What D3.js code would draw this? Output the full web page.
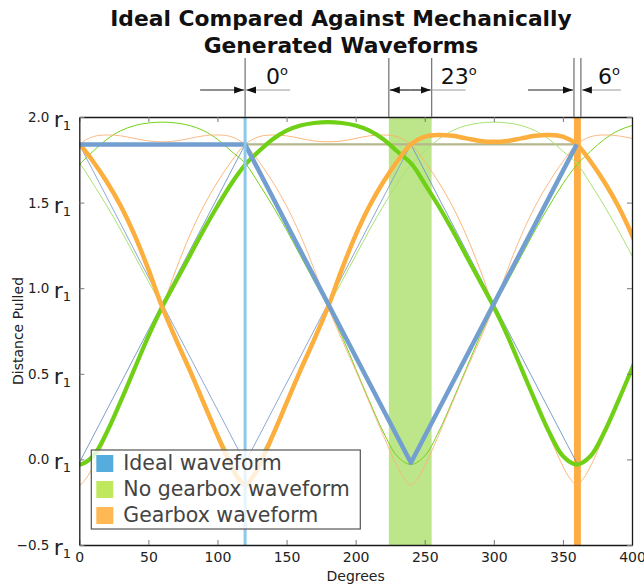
<!DOCTYPE html>
<html>
<head>
<meta charset="utf-8">
<script src="https://cdn.jsdelivr.net/npm/d3@7"></script>
<style>
  body { margin: 0; background: #fff; }
  svg { display: block; }
  text { font-family: "DejaVu Sans", Verdana, sans-serif; }
</style>
</head>
<body>
<svg id="chart" width="644" height="586"></svg>
<script>
// ---- data ---------------------------------------------------------------
const titleLines = ["Ideal Compared Against Mechanically", "Generated Waveforms"];
const xTitle = "Degrees";
const yTitle = "Distance Pulled";
const degreeTicks = [0, 50, 100, 150, 200, 250, 300, 350, 400];
const distanceTicks = [-0.5, 0.0, 0.5, 1.0, 1.5, 2.0];
const legendLabels = ["Ideal waveform", "No gearbox waveform", "Gearbox waveform"];

// One cycle of each waveform, indexed by degrees past its trough (units of r1)
const idealPhase = [0, 120, 240, 360];
const idealValue = [-0.02, 1.84, 1.84, -0.02];

const noGearPhase = [0, 10, 20, 30, 40, 50, 60, 70, 80, 90, 100, 110, 120, 130, 140, 150, 160, 170, 180,
                     190, 200, 210, 220, 230, 240, 250, 260, 270, 280, 290, 300, 310, 320, 330, 340, 350, 360];
const noGearValue = [-0.03, 0.02, 0.16, 0.34, 0.53, 0.72, 0.89, 1.04, 1.19, 1.34, 1.48, 1.61, 1.72, 1.80, 1.87, 1.92, 1.95, 1.965, 1.97,
                     1.965, 1.95, 1.92, 1.87, 1.80, 1.73, 1.61, 1.48, 1.34, 1.19, 1.04, 0.89, 0.72, 0.53, 0.34, 0.16, 0.02, -0.03];

const gearPhase = [0, 5, 10, 20, 30, 40, 50, 60, 70, 80, 90, 100, 110, 120, 130, 140, 150, 160, 170, 180,
                   190, 200, 210, 220, 230, 240, 250, 260, 270, 280, 290, 300, 310, 320, 330, 340, 350, 355, 360];
const gearValue = [-0.15, -0.11, -0.04, 0.14, 0.33, 0.52, 0.70, 0.89, 1.11, 1.31, 1.48, 1.62, 1.74, 1.84, 1.885, 1.895, 1.89, 1.875, 1.86, 1.855,
                   1.86, 1.875, 1.89, 1.895, 1.885, 1.84, 1.74, 1.62, 1.48, 1.31, 1.11, 0.89, 0.70, 0.52, 0.33, 0.14, -0.04, -0.11, -0.15];

// Trough positions (degrees) of the three phases; the first one is highlighted
const idealTroughs = [240, 0, 120];
const noGearTroughs = [0, 240, 120];
const gearTroughs = [120, 0, 240];

// Timing offsets between the ideal and mechanical peaks
const idealMarker = 120;
const noGearBand = [224, 255];
const gearBand = [358, 363];
const offsetLabels = ["0", "23", "6"];

// ---- layout -------------------------------------------------------------
const svg = d3.select("#chart");
const x = d3.scaleLinear().domain([0, 400]).range([79.3, 632]);
const y = d3.scaleLinear().domain([-0.5, 2.0]).range([545, 117]);
const [x0, x1] = x.range();
const [yb, yt] = y.range();

const colors = {
  ideal: "#729fcf", noGear: "#6fd016", gear: "#fcaf3e",
  idealThin: ["#6f93c4", "#7f9fcf"], noGearThin: ["#73d216", "#a9e272"], gearThin: ["#fcaf6a", "#fcb27a"],
  flat: "#b6b88c", marker: "#8cc8ea", noGearBand: "#bde68b", gearBand: "#fcae45",
  swatch: ["#56addd", "#bfe85c", "#ffb852"]
};

svg.append("defs").append("clipPath").attr("id", "plot-clip")
  .append("rect").attr("x", x0).attr("y", yt).attr("width", x1 - x0).attr("height", yb - yt);

// ---- title --------------------------------------------------------------
svg.append("g").selectAll("text").data(titleLines).join("text")
  .attr("x", 341).attr("y", (d, i) => 26 + i * 27)
  .attr("text-anchor", "middle").attr("font-weight", "bold").attr("font-size", 21.8)
  .attr("fill", "#111").text(d => d);

// ---- bands and marker ---------------------------------------------------
const plot = svg.append("g").attr("clip-path", "url(#plot-clip)");
plot.append("rect").attr("x", x(noGearBand[0])).attr("width", x(noGearBand[1]) - x(noGearBand[0]))
  .attr("y", yt).attr("height", yb - yt).attr("fill", colors.noGearBand);
plot.append("rect").attr("x", x(gearBand[0])).attr("width", x(gearBand[1]) - x(gearBand[0]))
  .attr("y", yt).attr("height", yb - yt).attr("fill", colors.gearBand);

// ---- waveforms ----------------------------------------------------------
function phasePoints(phase, value, trough) {
  const pts = [];
  for (let k = -2; k <= 1; k++) {
    phase.forEach((p, i) => pts.push([trough + p + 360 * k, value[i]]));
  }
  const seen = new Set();
  return pts.filter(p => p[0] >= -60 && p[0] <= 460)
    .sort((a, b) => a[0] - b[0])
    .filter(p => { const key = p[0].toFixed(3); if (seen.has(key)) return false; seen.add(key); return true; });
}

const straight = d3.line().x(d => x(d[0])).y(d => y(d[1]));
const smooth = d3.line().x(d => x(d[0])).y(d => y(d[1])).curve(d3.curveCatmullRom.alpha(0.5));

// thin companion phases
idealTroughs.slice(1).forEach((t, i) => {
  const pts = phasePoints(idealPhase, idealValue, t);
  plot.append("path").attr("d", straight(pts)).attr("fill", "none")
    .attr("stroke", colors.idealThin[i]).attr("stroke-width", 0.9);
  // level tops of the ideal waveform
  const flats = d3.pairs(pts).filter(([a, b]) => a[1] === b[1]);
  plot.selectAll(null).data(flats).join("path")
    .attr("d", d => straight(d)).attr("stroke", colors.flat).attr("stroke-width", 2.2).attr("fill", "none");
});
noGearTroughs.slice(1).forEach((t, i) => {
  plot.append("path").attr("d", smooth(phasePoints(noGearPhase, noGearValue, t))).attr("fill", "none")
    .attr("stroke", colors.noGearThin[i]).attr("stroke-width", 1);
});
gearTroughs.slice(1).forEach((t, i) => {
  plot.append("path").attr("d", smooth(phasePoints(gearPhase, gearValue, t))).attr("fill", "none")
    .attr("stroke", colors.gearThin[i]).attr("stroke-width", 0.9);
});

// highlighted phases
plot.append("path").attr("d", smooth(phasePoints(noGearPhase, noGearValue, noGearTroughs[0])))
  .attr("fill", "none").attr("stroke", colors.noGear).attr("stroke-width", 4.2);
plot.append("path").attr("d", smooth(phasePoints(gearPhase, gearValue, gearTroughs[0])))
  .attr("fill", "none").attr("stroke", colors.gear).attr("stroke-width", 4.5);
plot.append("path").attr("d", straight(phasePoints(idealPhase, idealValue, idealTroughs[0])))
  .attr("fill", "none").attr("stroke", colors.ideal).attr("stroke-width", 4.5).attr("stroke-linejoin", "round");

plot.append("line").attr("x1", x(idealMarker)).attr("x2", x(idealMarker)).attr("y1", yt).attr("y2", yb)
  .attr("stroke", colors.marker).attr("stroke-width", 3);

// ---- axes ---------------------------------------------------------------
const axisStyle = g => {
  g.select(".domain").attr("stroke", "#1a1a1a").attr("stroke-width", 1.3);
  g.selectAll(".tick line").attr("stroke", "#777");
};
svg.append("g").attr("transform", `translate(0,${yb})`)
  .call(d3.axisBottom(x).tickValues(degreeTicks).tickSizeInner(-5).tickSizeOuter(0).tickPadding(7).tickFormat(d3.format("d")))
  .call(axisStyle)
  .call(g => g.selectAll(".tick text").attr("font-size", 14).attr("fill", "#222").attr("font-family", "DejaVu Sans"));
svg.append("g").attr("transform", `translate(0,${yt})`)
  .call(d3.axisTop(x).tickValues(degreeTicks).tickSizeInner(-5).tickSizeOuter(0).tickFormat(""))
  .call(axisStyle);
svg.append("g").attr("transform", `translate(${x0},0)`)
  .call(d3.axisLeft(y).tickValues(distanceTicks).tickSizeInner(-5).tickSizeOuter(0).tickFormat(""))
  .call(axisStyle);
svg.append("g").attr("transform", `translate(${x1},0)`)
  .call(d3.axisRight(y).tickValues(distanceTicks).tickSizeInner(-5).tickSizeOuter(0).tickFormat(""))
  .call(axisStyle);

// y tick labels in multiples of r1
const fmt = d3.format(".1f");
const yLabels = svg.append("g").selectAll("text").data(distanceTicks).join("text")
  .attr("x", 71).attr("y", d => y(d) + 5).attr("text-anchor", "end").attr("fill", "#222");
yLabels.append("tspan").attr("font-size", 13.5).text(d => fmt(d).replace("-", "\u2212") + " ");
yLabels.append("tspan").attr("font-size", 22).attr("dy", 5).text("r");
yLabels.append("tspan").attr("font-size", 13).attr("dy", 3).text("1");

svg.append("text").attr("x", (x0 + x1) / 2).attr("y", 581).attr("text-anchor", "middle")
  .attr("font-size", 14).attr("fill", "#222").text(xTitle);
svg.append("text").attr("transform", `translate(23,${(yt + yb) / 2}) rotate(-90)`).attr("text-anchor", "middle")
  .attr("font-size", 14).attr("fill", "#222").text(yTitle);

// ---- offset annotations -------------------------------------------------
const ann = svg.append("g");
const annTop = 58, arrowY = 90;
ann.append("defs").call(d => {
  d.append("marker").attr("id", "head").attr("viewBox", "0 0 10 10").attr("refX", 10).attr("refY", 5)
    .attr("markerWidth", 10).attr("markerHeight", 10).attr("markerUnits", "userSpaceOnUse").attr("orient", "auto")
    .append("path").attr("d", "M0,1.5 L10,5 L0,8.5 Z").attr("fill", "#111");
});
function vline(xp) {
  ann.append("line").attr("x1", xp).attr("x2", xp).attr("y1", annTop).attr("y2", yt)
    .attr("stroke", "#7a7a7a").attr("stroke-width", 1.3);
}
function arrow(xa, xb, col) {
  ann.append("line").attr("x1", xa).attr("x2", xb).attr("y1", arrowY).attr("y2", arrowY)
    .attr("stroke", col).attr("stroke-width", 1.2).attr("marker-end", "url(#head)");
}
function degLabel(xp, txt) {
  const t = ann.append("text").attr("x", xp).attr("y", 84).attr("font-size", 22).attr("fill", "#111");
  t.append("tspan").text(txt);
  t.append("tspan").attr("font-size", 13).attr("dy", -9).text("o");
}
// ideal vs ideal marker
const xm = x(idealMarker);
vline(xm);
arrow(xm - 45, xm - 1, "#222");
arrow(xm + 45, xm + 1, "#999");
degLabel(xm + 21, offsetLabels[0]);
// no-gearbox offset
const ga = x(noGearBand[0]), gb = x(noGearBand[1]);
vline(ga); vline(gb);
const mid = (ga + gb) / 2;
arrow(mid, ga + 1, "#222");
arrow(mid, gb - 1, "#222");
ann.append("line").attr("x1", gb).attr("x2", gb + 34).attr("y1", arrowY).attr("y2", arrowY)
  .attr("stroke", "#999").attr("stroke-width", 1.2);
degLabel(gb + 9, offsetLabels[1]);
// gearbox offset
const oa = x(gearBand[0]), ob = x(gearBand[1]);
vline(oa); vline(ob);
arrow(oa - 46, oa - 1, "#222");
arrow(ob + 40, ob + 1, "#999");
degLabel(ob + 17, offsetLabels[2]);

// ---- legend -------------------------------------------------------------
const lg = svg.append("g").attr("transform", `translate(${x0 + 12},${yb - 95})`);
lg.append("rect").attr("width", 269).attr("height", 79)
  .attr("fill", "#fff").attr("fill-opacity", 0.8).attr("stroke", "#555").attr("stroke-width", 1.2);
const rows = lg.selectAll("g").data(legendLabels).join("g")
  .attr("transform", (d, i) => `translate(5,${5 + i * 26})`);
rows.append("rect").attr("width", 17).attr("height", 17).attr("fill", (d, i) => colors.swatch[i]);
rows.append("text").attr("x", 27).attr("y", 15).attr("font-size", 20.5).attr("fill", "#444").text(d => d);
</script>
</body>
</html>
